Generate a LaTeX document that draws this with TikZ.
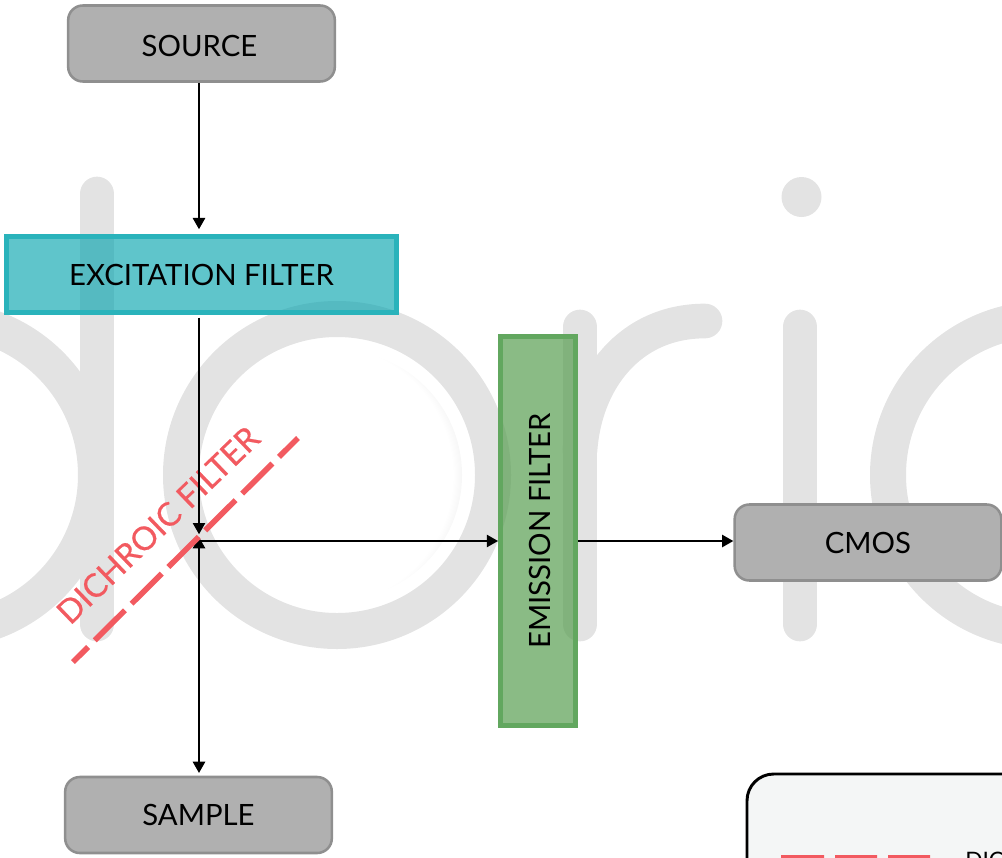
\documentclass[tikz,border=0pt]{standalone}
\usepackage{fontspec}
\setmainfont{Lato}
\usepackage{tikz}
\usetikzlibrary{arrows.meta,calc,positioning}
\definecolor{markgrey}{RGB}{227,227,227}
\definecolor{boxgrey}{RGB}{176,176,176}
\definecolor{boxline}{RGB}{143,143,143}
\definecolor{excite}{RGB}{42,179,187}
\definecolor{excitefill}{RGB}{5,164,174}
\definecolor{emit}{RGB}{98,167,95}
\definecolor{emitfill}{RGB}{88,158,81}
\definecolor{dichroic}{RGB}{242,90,96}
\definecolor{legendbg}{RGB}{244,246,246}
\pgfdeclareradialshading{lensglow}{\pgfpoint{-6bp}{0bp}}{%
  color(0bp)=(white); color(26bp)=(white); color(31bp)=(black!10); color(50bp)=(black!10)}
\tikzset{
  stage/.style={draw=boxline, fill=boxgrey, line width=1.9pt, rounded corners=11pt,
    minimum width=200pt, minimum height=57pt, inner sep=0pt, font=\fontsize{22}{26}\selectfont},
  filterbox/.style={line width=3.8pt, text opacity=1, inner sep=0pt,
    font=\fontsize{22}{26}\selectfont},
  excitebox/.style={filterbox, draw=excite, fill=excitefill, fill opacity=0.64, minimum width=292pt, minimum height=57pt},
  emitbox/.style={filterbox, draw=emit, fill=emitfill, fill opacity=0.7, minimum width=56pt, minimum height=292pt},
  flow/.style={-{Triangle[length=8.5pt,width=9pt]}, line width=1.9pt},
  flowboth/.style={{Triangle[length=8.5pt,width=9pt]}-{Triangle[length=8.5pt,width=9pt]}, line width=1.9pt},
  markstroke/.style={draw=markgrey, line width=26pt, line cap=round},
  markring/.style={draw=markgrey, line width=27pt}
}
\begin{document}
\begin{tikzpicture}[x=0.75pt, y=-0.75pt]
  \useasboundingbox (0,0) rectangle (1002,857);
  \begin{scope}
    \clip (0,0) rectangle (1002,857);
    % Watermark letters
    \draw[markring] (-60,475) circle (156);
    \draw[markstroke] (97,194) -- (97,624);
    \draw[markring] (337,475) circle (156);
    \shade[shading=lensglow] (337,475) circle (125);
    \draw[markstroke] (580,327) -- (580,624);
    \draw[markstroke] (580,450) .. controls (585,380) and (630,321) .. (705,321);
    \draw[markstroke] (800,327) -- (800,624);
    \fill[markgrey] (801.5,197) circle (20);
    \draw[markring] (1044,475) circle (156);
    % Legend corner
    \draw[fill=legendbg, line width=2.2pt, rounded corners=20pt] (747,774) rectangle (1100,950);
    \fill[dichroic] (781,855) rectangle (824,860) (835,855) rectangle (877,860) (888,855) rectangle (930,860);
  \end{scope}
  % Stages and filters
  \coordinate (junction) at (199,541);
  \node[stage] (source) at (201.5,43.5) {\hspace*{-3pt}\raisebox{-1.5pt}[\height][\depth]{SOURCE}};
  \node[excitebox] (excitation) at (201.5,274.5) {EXCITATION FILTER};
  \node[emitbox] (emission) at (538,531) {\rotatebox{90}{\raisebox{-1.5pt}[\height][\depth]{EMISSION FILTER}}};
  \node[stage] (sample) at (198.5,815) {SAMPLE};
  \node[stage] (cmos) at (868,542.5) {CMOS};
  \node[text=dichroic, rotate=44, font=\fontsize{24.5}{29}\selectfont\addfontfeature{FakeBold=0.5}] (dichroiclabel) at (158,525) {DICHROIC FILTER};
  \node[anchor=base west, inner sep=0pt, font=\fontsize{17}{20}\selectfont] (legendtext) at (965,868) {DIC};
  % Light paths
  \draw[flow] (source.south -| junction) -- ([yshift=3.5pt]excitation.north -| junction);
  \draw[flow] ([yshift=-2pt]excitation.south -| junction) -- ([yshift=5pt]junction);
  \draw[flow] (junction) -- (junction -| emission.west);
  \draw[flow] (junction -| emission.east) -- (junction -| cmos.west);
  \draw[flowboth] ([yshift=3pt]junction) -- ([yshift=2pt]sample.north -| junction);
  % Dichroic line
  \coordinate (dichroicA) at (73,662);
  \coordinate (dichroicB) at (298,438);
  \draw[dichroic, line width=4.2pt, dash pattern=on 32pt off 7pt, dash phase=16pt] (dichroicA) -- (dichroicB);
\end{tikzpicture}
\end{document}
